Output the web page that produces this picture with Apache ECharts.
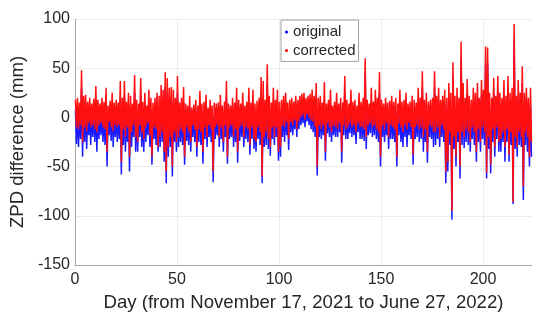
<!DOCTYPE html>
<html><head><meta charset="utf-8">
<script src="https://cdn.jsdelivr.net/npm/echarts@6/dist/echarts.min.js"></script>
<style>html,body{margin:0;padding:0;background:#fff}#c{width:550px;height:326px}</style>
</head><body><div id="c"></div>
<script>
// Per-day readings (day 0..223): daily high and low of each series, mm
const redHi = [
18,20,15,48,22,23,16,20,14,19,
32,18,14,20,16,30,12,17,25,15,
18,15,37,20,37,16,25,22,14,43,
18,14,40,16,25,12,28,20,15,20,
25,22,33,28,46,40,30,31,28,20,
42,15,20,31,14,12,22,10,13,18,
12,27,14,16,23,10,18,12,15,14,
15,23,12,16,37,14,12,20,15,30,
18,14,25,12,16,30,15,28,14,17,
20,41,37,18,54,22,15,30,18,28,
16,18,22,25,15,18,20,16,22,18,
22,24,25,20,22,24,28,22,35,20,
22,15,36,14,18,28,12,16,25,14,
20,15,42,18,14,28,16,18,12,25,
16,20,60,18,14,30,16,28,20,46,
18,14,20,15,17,22,16,20,14,28,
16,18,25,14,16,22,18,15,30,20,
47,18,25,16,18,20,47,22,30,18,
22,28,20,35,25,56,22,30,20,77,
35,20,39,22,18,30,25,35,20,38,
28,72,71,25,20,40,22,42,25,20,
38,22,42,25,30,95,22,38,25,52,
25,30,20,30];
const redLo = [
-10,-12,-8,-25,-10,-14,-6,-10,-8,-12,
-15,-8,-6,-10,-12,-35,-5,-10,-14,-8,
-10,-8,-45,-12,-20,-10,-40,-15,-8,-20,
-25,-8,-15,-22,-10,-6,-18,-40,-10,-12,
-30,-20,-15,-35,-55,-30,-20,-50,-15,-25,
-20,-12,-15,-40,-10,-15,-25,-8,-12,-30,
-12,-15,-35,-10,-20,-8,-12,-55,-10,-8,
-20,-10,-25,-8,-40,-10,-8,-20,-12,-35,
-10,-8,-20,-10,-12,-28,-10,-22,-25,-10,
-15,-60,-20,-15,-22,-30,-10,-20,-10,-35,
-30,-8,-10,-5,-22,-5,-8,-3,-12,-4,
0,2,-2,3,0,-3,-5,-10,-50,-8,
-12,-8,-35,-6,-10,-15,-8,-10,-12,-6,
-35,-8,-12,-10,-6,-10,-8,-15,-6,-10,
-10,-12,-20,-8,-6,-10,-8,-12,-15,-40,
-8,-12,-6,-20,-8,-10,-12,-40,-6,-10,
-15,-8,-12,-6,-10,-38,-10,-8,-12,-10,
-20,-12,-35,-8,-10,-15,-15,-10,-20,-8,
-12,-55,-45,-15,-95,-20,-40,-15,-50,-15,
-20,-12,-15,-25,-10,-15,-35,-12,-25,-10,
-15,-56,-20,-48,-12,-30,-10,-25,-22,-15,
-30,-12,-38,-15,-86,-20,-30,-15,-20,-70,
-15,-20,-40,-25];
const blueHi = [
8,8,5,30,10,12,5,8,4,8,
18,6,3,8,5,15,2,6,12,4,
6,4,20,8,22,5,12,10,3,25,
6,3,22,5,12,2,14,8,4,8,
10,8,18,12,30,25,15,18,14,6,
25,4,8,16,2,0,10,-2,2,6,
0,14,2,4,10,-2,6,0,3,2,
3,10,0,4,20,2,0,8,3,15,
5,2,12,0,4,16,3,14,2,5,
8,25,20,6,35,10,3,15,5,14,
4,6,10,12,3,8,8,5,10,8,
10,12,12,10,11,12,14,8,15,6,
8,4,18,3,6,12,2,5,10,3,
8,4,25,6,3,12,4,5,2,10,
4,6,45,5,3,14,5,12,6,25,
4,2,6,3,4,8,3,6,2,12,
4,5,12,2,3,8,5,3,15,6,
30,5,12,3,5,8,30,8,15,4,
8,15,6,20,10,40,8,15,5,60,
20,6,25,8,4,15,10,20,6,22,
12,55,55,10,5,25,8,28,10,6,
22,8,28,10,15,80,8,22,10,35,
10,15,5,12];
const blueLo = [
-27,-30,-22,-40,-25,-32,-18,-28,-20,-25,
-35,-22,-18,-25,-28,-50,-18,-24,-30,-20,
-25,-22,-58,-28,-35,-25,-55,-30,-20,-35,
-35,-20,-30,-35,-25,-18,-30,-48,-22,-28,
-35,-30,-25,-45,-67,-40,-30,-60,-25,-35,
-30,-25,-28,-48,-24,-28,-35,-20,-25,-40,
-25,-28,-47,-22,-30,-20,-25,-66,-22,-18,
-30,-22,-35,-20,-47,-22,-20,-30,-25,-46,
-24,-20,-30,-22,-25,-38,-22,-32,-35,-22,
-28,-67,-30,-28,-32,-39,-22,-28,-20,-44,
-40,-20,-25,-18,-33,-15,-18,-12,-20,-12,
-8,-6,-10,-4,-8,-12,-15,-20,-59,-20,
-22,-18,-44,-16,-20,-25,-18,-20,-20,-15,
-46,-18,-22,-22,-16,-20,-18,-27,-15,-22,
-22,-24,-32,-18,-16,-20,-18,-22,-25,-50,
-20,-25,-18,-32,-22,-22,-25,-50,-18,-25,
-30,-20,-30,-18,-22,-48,-22,-20,-25,-22,
-35,-25,-46,-20,-22,-30,-28,-22,-30,-20,
-25,-67,-55,-28,-104,-32,-50,-25,-62,-28,
-31,-25,-28,-35,-22,-28,-45,-25,-35,-22,
-28,-62,-32,-57,-25,-40,-22,-35,-35,-25,
-45,-25,-45,-28,-88,-32,-40,-28,-30,-84,
-28,-35,-50,-40];
const xTicks = [0, 50, 100, 150, 200];
const yTicks = [-150, -100, -50, 0, 50, 100];
const seriesNames = ['original', 'corrected'];

function build(hi, lo) {
  const out = [];
  for (let d = 0; d < hi.length; d++) {
    out.push([d + 0.25, hi[d]]);
    out.push([d + 0.75, lo[d]]);
  }
  return out;
}
const F = '"Liberation Sans", Arial, Helvetica, sans-serif';
const TXT = '#262626';
const chart = echarts.init(document.getElementById('c'), null, {renderer: 'canvas'});
chart.setOption({
  animation: false,
  backgroundColor: '#fff',
  grid: {left: 72, top: 19, right: 18, bottom: 61},
  legend: {
    data: seriesNames,
    orient: 'vertical',
    left: 281, top: 20,
    icon: 'circle', itemWidth: 3, itemHeight: 3, itemGap: 0.4,
    padding: [3, 3, 2, 4],
    backgroundColor: '#fff',
    borderColor: '#a0a0a0', borderWidth: 1,
    textStyle: {fontFamily: F, fontSize: 15, color: TXT, lineHeight: 18}
  },
  xAxis: {
    type: 'value', min: xTicks[0], max: redHi.length, interval: 50,
    name: 'Day (from November 17, 2021 to June 27, 2022)',
    nameLocation: 'middle', nameGap: 28,
    nameTextStyle: {fontFamily: F, fontSize: 18.6, color: TXT},
    axisLine: {show: true, onZero: false, lineStyle: {color: '#a8a8a8'}},
    axisTick: {show: false},
    axisLabel: {fontFamily: F, fontSize: 16, color: TXT, margin: 7, showMaxLabel: false},
    splitLine: {show: true, showMaxLine: false, lineStyle: {color: '#ececec'}}
  },
  yAxis: {
    type: 'value', min: yTicks[0], max: yTicks[yTicks.length - 1], interval: 50,
    name: 'ZPD difference (mm)',
    nameLocation: 'middle', nameGap: 34, nameRotate: 90,
    nameTextStyle: {fontFamily: F, fontSize: 18.6, color: TXT},
    axisLine: {show: true, onZero: false, lineStyle: {color: '#a8a8a8'}},
    axisTick: {show: false},
    axisLabel: {fontFamily: F, fontSize: 16, color: TXT, margin: 5},
    splitLine: {show: true, lineStyle: {color: '#ececec'}}
  },
  series: [
    {name: seriesNames[0], type: 'line', data: build(blueHi, blueLo), showSymbol: false, symbol: 'circle',
     lineStyle: {width: 1.5, color: '#1a1aff'}, itemStyle: {color: '#0000ff'}, z: 2},
    {name: seriesNames[1], type: 'line', data: build(redHi, redLo), showSymbol: false, symbol: 'circle',
     lineStyle: {width: 1.5, color: '#ff1010'}, itemStyle: {color: '#ff0000'}, z: 3}
  ]
});
</script></body></html>
